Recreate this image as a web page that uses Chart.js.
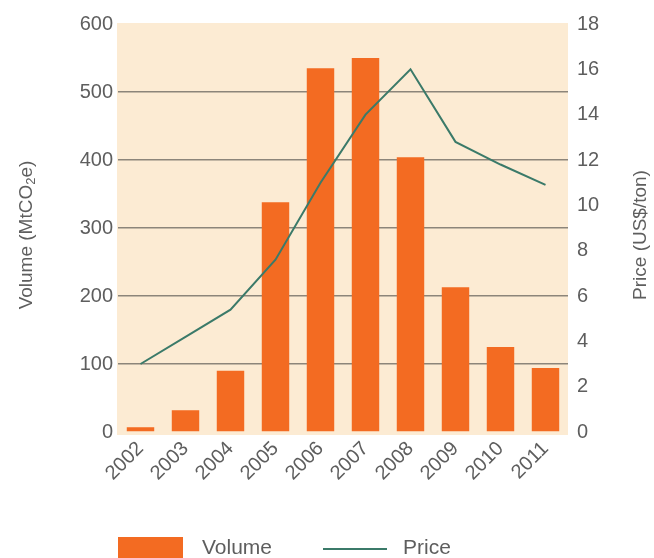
<!DOCTYPE html>
<html>
<head>
<meta charset="utf-8">
<script src="https://cdn.jsdelivr.net/npm/chart.js@4/dist/chart.umd.min.js"></script>
<style>
  html, body { margin: 0; padding: 0; background: #ffffff; }
  #wrap { width: 654px; height: 558px; position: relative; }
</style>
</head>
<body>
<div id="wrap"><canvas id="c" width="654" height="558"></canvas></div>
<script>
// Traded volume and average price by year
const years = ['2002', '2003', '2004', '2005', '2006', '2007', '2008', '2009', '2010', '2011'];
const volume = [7, 32, 90, 338, 535, 550, 404, 213, 125, 94];        // MtCO2e
const price = [3.0, 4.2, 5.4, 7.6, 11.0, 14.0, 16.0, 12.8, 11.8, 10.9]; // US$/ton
const volumeTicks = [0, 100, 200, 300, 400, 500, 600];
const priceTicks = [0, 2, 4, 6, 8, 10, 12, 14, 16, 18];

const ORANGE = '#f36b22';
const TEAL = '#3b7a69';
const PANEL = '#fcebd3';
const GRID = '#8c857a';
const TEXT = '#5e5e5e';
const FONT = '"Liberation Sans", Arial, sans-serif';

// Panel fill behind the plot, axis titles and the legend strip
const decor = {
  id: 'decor',
  beforeDraw(chart) {
    const { ctx, chartArea: a } = chart;
    ctx.save();
    ctx.fillStyle = PANEL;
    ctx.fillRect(a.left - 1, a.top - 1, a.right - a.left + 1, a.bottom - a.top + 4);
    ctx.restore();
  },
  afterDraw(chart) {
    const { ctx, chartArea: a } = chart;
    const midY = (a.top + a.bottom) / 2 + 7;
    ctx.save();
    ctx.fillStyle = TEXT;
    ctx.textBaseline = 'middle';

    // Left title with subscript 2
    ctx.save();
    ctx.translate(27, midY);
    ctx.rotate(-Math.PI / 2);
    const big = '19px ' + FONT, small = '13px ' + FONT;
    const parts = [['Volume (MtCO', big, 0], ['2', small, 4], ['e)', big, 0]];
    let total = 0;
    parts.forEach(p => { ctx.font = p[1]; total += ctx.measureText(p[0]).width; });
    let x = -total / 2;
    ctx.textAlign = 'left';
    parts.forEach(p => {
      ctx.font = p[1];
      ctx.fillText(p[0], x, p[2]);
      x += ctx.measureText(p[0]).width;
    });
    ctx.restore();

    // Right title, reading bottom to top
    ctx.save();
    ctx.translate(641, midY);
    ctx.rotate(-Math.PI / 2);
    ctx.font = big;
    ctx.textAlign = 'center';
    ctx.fillText('Price (US$/ton)', 0, 0);
    ctx.restore();

    // Legend
    const ds = chart.data.datasets;
    const ly = 548;
    ctx.font = '21px ' + FONT;
    ctx.textAlign = 'left';
    ctx.fillStyle = ds[0].backgroundColor;
    ctx.fillRect(118, 537, 65, 24);
    ctx.fillStyle = TEXT;
    ctx.fillText(ds[0].label, 202, ly);
    ctx.strokeStyle = ds[1].borderColor;
    ctx.lineWidth = 2;
    ctx.beginPath();
    ctx.moveTo(323, ly + 1);
    ctx.lineTo(387, ly + 1);
    ctx.stroke();
    ctx.fillText(ds[1].label, 403, ly);
    ctx.restore();
  }
};

new Chart(document.getElementById('c'), {
  type: 'bar',
  data: {
    labels: years,
    datasets: [
      {
        type: 'line',
        label: 'Price',
        data: price,
        yAxisID: 'y1',
        borderColor: TEAL,
        borderWidth: 2,
        pointRadius: 0,
        tension: 0,
        fill: false,
        order: 1
      },
      {
        type: 'bar',
        label: 'Volume',
        data: volume,
        yAxisID: 'y',
        backgroundColor: ORANGE,
        borderWidth: 0,
        categoryPercentage: 1.0,
        barPercentage: 0.61,
        order: 2
      }
    ].reverse()
  },
  options: {
    responsive: false,
    animation: false,
    layout: { padding: { top: 24, left: 0, right: 0, bottom: 0 } },
    plugins: { legend: { display: false }, tooltip: { enabled: false } },
    scales: {
      x: {
        offset: true,
        grid: { display: false, drawTicks: false },
        border: { display: false },
        ticks: {
          color: TEXT,
          font: { family: FONT, size: 20 },
          maxRotation: 45,
          minRotation: 45,
          padding: 5
        },
        afterFit(s) { s.height = 126; }
      },
      y: {
        position: 'left',
        min: 0,
        max: 600,
        afterBuildTicks(s) { s.ticks = volumeTicks.map(v => ({ value: v })); },
        grid: {
          drawTicks: false,
          lineWidth: 1.5,
          color: c => (c.tick && (c.tick.value === 0 || c.tick.value === 600)) ? 'rgba(0,0,0,0)' : GRID
        },
        border: { display: false },
        ticks: { color: TEXT, font: { family: FONT, size: 20 }, padding: 5 },
        afterFit(s) { s.width = 118; }
      },
      y1: {
        position: 'right',
        min: 0,
        max: 18,
        afterBuildTicks(s) { s.ticks = priceTicks.map(v => ({ value: v })); },
        grid: { display: false, drawTicks: false },
        border: { display: false },
        ticks: { color: TEXT, font: { family: FONT, size: 20 }, padding: 9 },
        afterFit(s) { s.width = 86; }
      }
    }
  },
  plugins: [decor]
});
</script>
</body>
</html>
